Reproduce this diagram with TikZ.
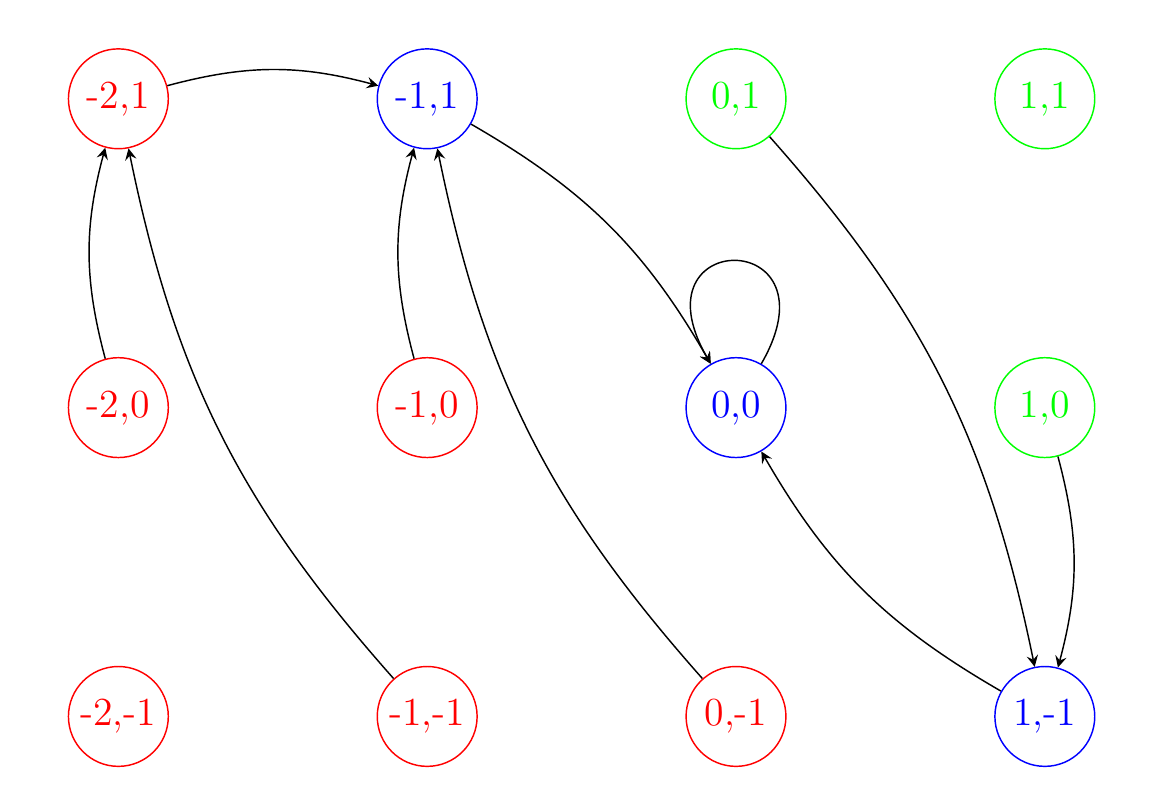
\documentclass[tikz,border=0pt]{standalone}
\usepackage{tikz}
\usepackage{xcolor}
\usetikzlibrary{arrows}
\tikzset{
Etat/.style={
 circle, 
 minimum size=0.97cm, 
 inner sep=1pt,
 font=\fontsize{11}{13.6}\selectfont
 },
EtatRouge/.style={Etat, draw=red, text=red},
EtatBleu/.style={Etat, draw=blue, text=blue},
EtatVert/.style={Etat, draw=green, text=green},
Fleche/.style={
 draw=black, 
 -stealth, 
 bend left=15
 }
}
\begin{document}
\begin{tikzpicture}
\useasboundingbox (-7.15,-3.79) rectangle (4.08,3.96);
\node[EtatRouge] (m2_1) at (-6,3) {-2,1};
\node[EtatBleu] (m1_1) at (-3,3) {-1,1};
\node[EtatVert] (0_1) at (0,3) {0,1};
\node[EtatVert] (1_1) at (3,3) {1,1};
\node[EtatRouge] (m2_0) at (-6,0) {-2,0};
\node[EtatRouge] (m1_0) at (-3,0) {-1,0};
\node[EtatBleu] (0_0) at (0,0) {0,0};
\node[EtatVert] (1_0) at (3,0) {1,0};
\node[EtatRouge] (m2_m1) at (-6,-3) {-2,-1};
\node[EtatRouge] (m1_m1) at (-3,-3) {-1,-1};
\node[EtatRouge] (0_m1) at (0,-3) {0,-1};
\node[EtatBleu] (1_m1) at (3,-3) {1,-1};
\draw[Fleche] (m2_1) to (m1_1);
\draw[Fleche] (m2_0) to (m2_1);
\draw[Fleche] (m1_m1) to (m2_1);
\draw[Fleche] (m1_0) to (m1_1);
\draw[Fleche] (0_m1) to (m1_1);
\draw[Fleche] (m1_1) to (0_0);
\draw[draw=black,-stealth] (0_0) to[loop, out=60, in=120, looseness=8] (0_0);
\draw[Fleche] (0_1) to (1_m1);
\draw[Fleche] (1_0) to (1_m1);
\draw[Fleche] (1_m1) to (0_0);
\end{tikzpicture}
\end{document}
